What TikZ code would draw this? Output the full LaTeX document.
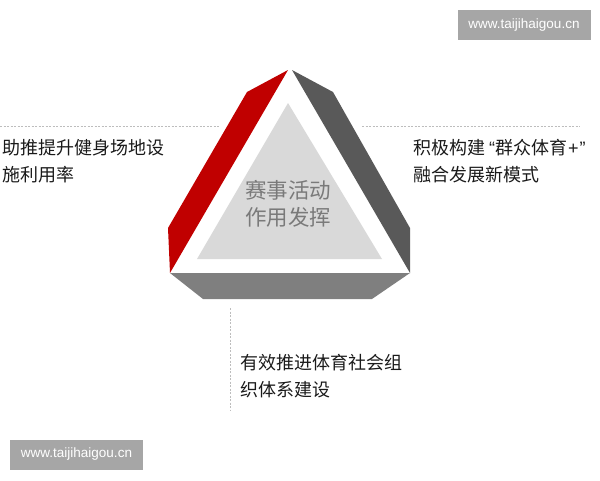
\documentclass[tikz,border=0pt]{standalone}
\usepackage{fontspec}
\setmainfont{Noto Sans CJK SC}
\newfontfamily\webfont{Liberation Sans}
\definecolor{bandred}{HTML}{C00000}
\definecolor{banddark}{HTML}{595959}
\definecolor{bandmid}{HTML}{7F7F7F}
\definecolor{coregray}{HTML}{D9D9D9}
\definecolor{corefont}{HTML}{7A7A7A}
\definecolor{markgray}{HTML}{A6A6A6}
\definecolor{guidegray}{HTML}{BDBDBD}
\definecolor{textblack}{HTML}{1A1A1A}

\begin{document}
\begin{tikzpicture}[x=1pt,y=-1pt]
        \tikzstyle{every node}=[inner sep=0pt]
        \tikzstyle{notetext}=[font=\fontsize{18}{27}\selectfont, text=textblack, align=left, anchor=west]
        \tikzstyle{coretext}=[font=\fontsize{21.5}{27}\selectfont, text=corefont, align=center]
        \tikzstyle{sitebox}=[fill=markgray, text=white, font=\webfont\fontsize{13.5}{16}\selectfont, minimum width=133pt, minimum height=30pt]
        \tikzstyle{guide}=[draw=guidegray, dash pattern=on 2pt off 1.5pt, line width=0.6pt]
        \useasboundingbox (0,0) rectangle (600,480);
        \fill[bandred] (288,70) -- (247,92) -- (168,228) -- (170,273) -- cycle;
        \fill[banddark] (292,70) -- (333,92) -- (410,228) -- (410,273) -- cycle;
        \fill[bandmid] (170,273) -- (410,273) -- (372,299) -- (203,299) -- cycle;
        \fill[coregray] (288,103) -- (197,259) -- (382,259) -- cycle;
        \node[coretext] (core) at (288,203.5) {赛事活动\\作用发挥};
        \node[notetext] (facility) at (2,161.5) {助推提升健身场地设\\施利用率};
        \node[notetext] (mode) at (413,161.5) {积极构建\hspace{4pt}{\webfont “}群众体育{\webfont\hspace{1pt}+\hspace{1pt}”}\\融合发展新模式};
        \node[notetext] (society) at (240,376.5) {有效推进体育社会组\\织体系建设};
        \coordinate (leftend) at (0,126);
        \coordinate (leftstop) at (220,126);
        \coordinate (rightend) at (580,126);
        \coordinate (rightstop) at (362,126);
        \coordinate (downtop) at (230,308);
        \coordinate (downend) at (230,410);
        \draw[guide] (leftend) -- (leftstop);
        \draw[guide] (rightstop) -- (rightend);
        \draw[guide] (downtop) -- (downend);
        \node[sitebox] (sitetop) at (524,25) {www.taijihaigou.cn};
        \node[sitebox] (sitebottom) at (76.5,454.5) {www.taijihaigou.cn};
    \end{tikzpicture}
\end{document}
